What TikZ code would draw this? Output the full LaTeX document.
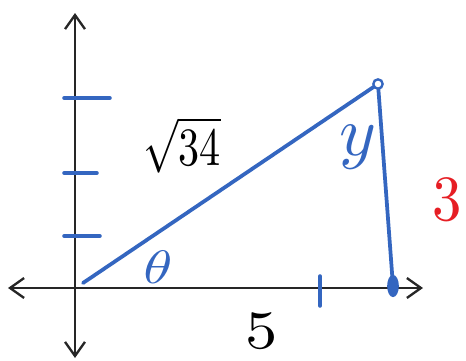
\documentclass[tikz,border=0pt]{standalone}
\usetikzlibrary{arrows.meta,shapes.geometric}
\definecolor{inkblue}{RGB}{52,102,192}
\definecolor{inkred}{RGB}{230,30,36}
\begin{document}
\begin{tikzpicture}[x=0.03cm, y=-0.03cm,
    axis/.style={draw=black!85, line width=2pt, {Straight Barb[length=12pt,width=17pt]}-{Straight Barb[length=12pt,width=17pt]}},
    side/.style={draw=inkblue, line width=3.2pt, line cap=round, line join=round},
    tickmark/.style={draw=inkblue, line width=3pt, line cap=round},
    lbl/.style={inner sep=0pt}]
    \useasboundingbox (0,0) rectangle (466,361);

    % Axes
    \coordinate (xl) at (8,288);
    \coordinate (xr) at (423,288);
    \coordinate (yt) at (75,13);
    \coordinate (yb) at (75,358);
    \draw[axis] (xl) -- (xr);
    \draw[axis] (yb) -- (yt);

    % Ticks
    \foreach \ty/\tx in {98/110, 173/97, 236/100}
        \draw[tickmark] (64,\ty) -- (\tx,\ty);
    \draw[tickmark] (320,276) -- (320,306);

    % Triangle
    \coordinate (O) at (83,283);
    \coordinate (P) at (378,84);
    \coordinate (Q) at (393,286);
    \draw[side] (O) -- (P) -- (Q);
    \node[draw=inkblue, fill=white, circle, line width=2pt, inner sep=0pt, minimum size=8pt] (top) at (P) {};
    \node[fill=inkblue, ellipse, inner sep=0pt, minimum width=10pt, minimum height=19pt] (foot) at (Q) {};

    % Labels
    \node[lbl, xscale=3.6, yscale=4.6] (hyp) at (182,145) {$\sqrt{34}$};
    \node[lbl, text=inkblue, xscale=5, yscale=4] (theta) at (158,267) {$\theta$};
    \node[lbl, text=inkblue, scale=6] (ang) at (358,147) {$y$};
    \node[lbl, text=inkred, xscale=5, yscale=5.5] (opp) at (447,200) {3};
    \node[lbl, xscale=5.5, yscale=4.6] (adj) at (262,331) {5};
\end{tikzpicture}
\end{document}
